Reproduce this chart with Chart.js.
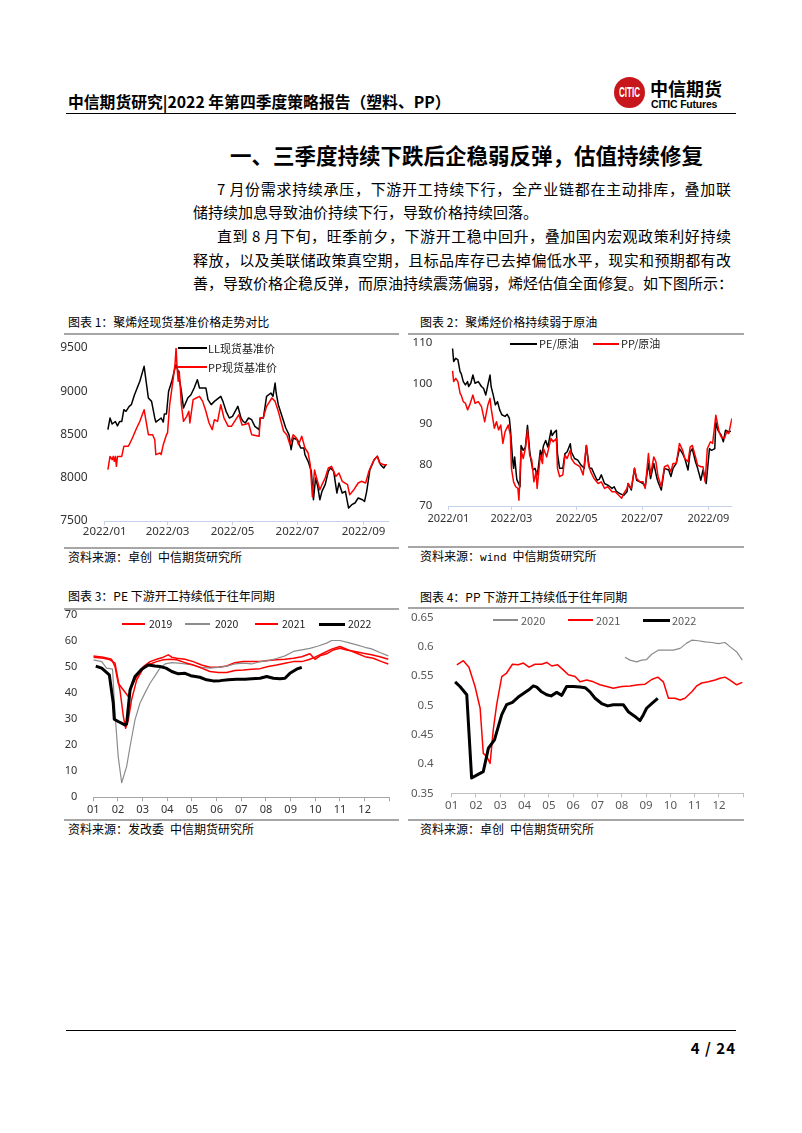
<!DOCTYPE html>
<html><head><meta charset="utf-8">
<script src="https://cdn.jsdelivr.net/npm/chart.js@4.4.0/dist/chart.umd.min.js"></script>
<style>
html,body{margin:0;padding:0;background:#fff;}
body{width:802px;height:1133px;position:relative;overflow:hidden;font-family:'Noto Sans CJK SC','Noto Sans',sans-serif;color:#000;}
.a{position:absolute;white-space:nowrap;line-height:1;}
.ln{position:absolute;}
.j{position:absolute;white-space:nowrap;line-height:1;text-align:justify;text-align-last:justify;}
canvas{position:absolute;}
</style></head><body>

<!-- header -->
<div class="a" style="left:68px;top:94px;font-size:15.8px;font-weight:bold;">中信期货研究|2022 年第四季度策略报告（塑料、PP）</div>
<div class="ln" style="left:614px;top:77px;width:31px;height:31px;border-radius:50%;background:#c8161d;"></div>
<div class="a" style="left:614px;top:88px;width:31px;text-align:center;color:#fff;font:bold 8px 'Liberation Sans',sans-serif;transform:scaleY(1.8);">CITIC</div>
<div class="a" style="left:650px;top:79px;font-size:18px;font-weight:bold;">中信期货</div>
<div class="a" style="left:651px;top:98px;font:bold 10.5px 'Liberation Sans',sans-serif;letter-spacing:-0.2px;">CITIC Futures</div>
<div class="ln" style="left:66px;top:112.5px;width:670px;height:1.5px;background:#000;"></div>

<!-- section title and paragraph -->
<div class="a" style="left:230px;top:144px;font-size:21.5px;font-weight:bold;">一、三季度持续下跌后企稳弱反弹，估值持续修复</div>
<div class="j" style="left:217px;top:180.5px;width:514px;font-size:15px;">7 月份需求持续承压，下游开工持续下行，全产业链都在主动排库，叠加联</div>
<div class="a" style="left:193px;top:203.5px;font-size:15px;">储持续加息导致油价持续下行，导致价格持续回落。</div>
<div class="j" style="left:217px;top:227.5px;width:514px;font-size:15px;">直到 8 月下旬，旺季前夕，下游开工稳中回升，叠加国内宏观政策利好持续</div>
<div class="j" style="left:193px;top:251.5px;width:538px;font-size:15px;">释放，以及美联储政策真空期，且标品库存已去掉偏低水平，现实和预期都有改</div>
<div class="a" style="left:193px;top:274.5px;font-size:15px;">善，导致价格企稳反弹，而原油持续震荡偏弱，烯烃估值全面修复。如下图所示：</div>

<!-- chart titles / rules / sources -->
<div class="a" style="left:68px;top:316px;font-size:12px;">图表 1：聚烯烃现货基准价格走势对比</div>
<div class="ln" style="left:64px;top:332.5px;width:335px;height:2px;background:#a6a6a6;"></div>
<div class="ln" style="left:64px;top:546.5px;width:335px;height:2px;background:#a6a6a6;"></div>
<div class="a" style="left:68px;top:551px;font-size:12px;">资料来源：卓创&ensp;中信期货研究所</div>

<div class="a" style="left:420px;top:316px;font-size:12px;">图表 2：聚烯烃价格持续弱于原油</div>
<div class="ln" style="left:408px;top:332.5px;width:336px;height:2px;background:#a6a6a6;"></div>
<div class="ln" style="left:408px;top:545.5px;width:336px;height:2px;background:#a6a6a6;"></div>
<div class="a" style="left:420px;top:550px;font-size:12px;">资料来源：<span style="font-family:'DejaVu Sans Mono',monospace;font-size:11px;">wind</span>&ensp;中信期货研究所</div>

<div class="a" style="left:68px;top:590px;font-size:12px;">图表 3：PE 下游开工持续低于往年同期</div>
<div class="ln" style="left:64px;top:608px;width:335px;height:2px;background:#a6a6a6;"></div>
<div class="ln" style="left:64px;top:818.5px;width:335px;height:2px;background:#a6a6a6;"></div>
<div class="a" style="left:68px;top:823px;font-size:12px;">资料来源：发改委&ensp;中信期货研究所</div>

<div class="a" style="left:420px;top:591px;font-size:12px;">图表 4：PP 下游开工持续低于往年同期</div>
<div class="ln" style="left:408px;top:607px;width:336px;height:2px;background:#a6a6a6;"></div>
<div class="ln" style="left:408px;top:819px;width:336px;height:2px;background:#a6a6a6;"></div>
<div class="a" style="left:420px;top:823px;font-size:12px;">资料来源：卓创&ensp;中信期货研究所</div>

<!-- footer -->
<div class="ln" style="left:66px;top:1029.5px;width:670px;height:1.5px;background:#000;"></div>
<div class="a" style="left:636px;top:1039.5px;width:100px;text-align:right;font-size:15px;font-weight:bold;letter-spacing:1px;">4 / 24</div>

<canvas id="c1"></canvas>
<canvas id="c2"></canvas>
<canvas id="c3"></canvas>
<canvas id="c4"></canvas>

<!-- legends -->
<div class="ln" style="left:178px;top:347.3px;width:29px;height:1.5px;background:#000;"></div>
<div class="a" style="left:208px;top:342.5px;font-size:11px;color:#222;">LL现货基准价</div>
<div class="ln" style="left:178px;top:366.3px;width:29px;height:1.5px;background:#f00;"></div>
<div class="a" style="left:208px;top:361.5px;font-size:11px;color:#222;">PP现货基准价</div>

<div class="ln" style="left:510px;top:343.3px;width:27px;height:1.5px;background:#000;"></div>
<div class="a" style="left:539px;top:338.3px;font-size:11px;color:#222;">PE/原油</div>
<div class="ln" style="left:593px;top:343.3px;width:26px;height:1.5px;background:#f00;"></div>
<div class="a" style="left:621px;top:338.3px;font-size:11px;color:#222;">PP/原油</div>

<div class="ln" style="left:122px;top:623.3px;width:23px;height:1.5px;background:#f00;"></div>
<div class="a" style="left:149px;top:618.7px;font-size:10.5px;color:#222;">2019</div>
<div class="ln" style="left:185px;top:623.4px;width:25px;height:1.2px;background:#8c8c8c;"></div>
<div class="a" style="left:215px;top:618.7px;font-size:10.5px;color:#222;">2020</div>
<div class="ln" style="left:255px;top:623.3px;width:23px;height:1.5px;background:#f00;"></div>
<div class="a" style="left:282px;top:618.7px;font-size:10.5px;color:#222;">2021</div>
<div class="ln" style="left:319px;top:622.5px;width:26px;height:3px;background:#000;"></div>
<div class="a" style="left:348px;top:618.7px;font-size:10.5px;color:#222;">2022</div>

<div class="ln" style="left:493px;top:619.4px;width:25px;height:1.2px;background:#8c8c8c;"></div>
<div class="a" style="left:521px;top:614.5px;font-size:11px;color:#595959;">2020</div>
<div class="ln" style="left:568px;top:619.3px;width:25px;height:1.5px;background:#f00;"></div>
<div class="a" style="left:596px;top:614.5px;font-size:11px;color:#595959;">2021</div>
<div class="ln" style="left:643px;top:618.5px;width:27px;height:3px;background:#000;"></div>
<div class="a" style="left:672px;top:614.5px;font-size:11px;color:#595959;">2022</div>

<script>
// ===== Chart 1: spot benchmark prices (x = days since 2022-01-01) =====
const c1XTickDays   = [0, 59, 120, 181, 243];
const c1XTickLabels = ['2022/01','2022/03','2022/05','2022/07','2022/09'];
const c1YTicks      = [7500, 8000, 8500, 9000, 9500];
const c1YTickLabels = ['7500','8000','8500','9000','9500'];
const llDay = [3,5,7,10,12,14,16,18,20,23,25,28,33,37,41,44,47,48,53,55,56,58,60,63,66,67,69,72,74,78,81,84,87,89,95,97,100,103,109,111,114,117,120,125,128,130,132,135,138,141,145,146,149,152,156,158,160,161,163,167,170,173,175,177,181,184,187,188,191,194,196,198,200,202,204,207,210,212,215,218,220,223,226,229,232,235,238,242,244,246,249,253,256,259,262,264];
const llPrice = [8556,8690,8621,8650,8600,8650,8650,8787,8768,8826,8845,8960,9115,9288,8922,8883,8691,8644,8691,8644,8737,8737,9000,9115,9269,9307,9230,9000,8806,8922,8960,9038,9134,9038,9038,8903,8845,8883,8941,8883,8768,8691,8710,8826,8691,8652,8633,8691,8671,8594,8556,8691,8691,8941,8980,8941,9095,8980,8845,8691,8575,8498,8325,8460,8440,8344,8344,8267,8190,8074,7746,7997,7901,7746,7843,7920,8074,8113,8074,7824,7939,7824,7843,7650,7689,7708,7766,7746,7727,7843,8094,8209,8248,8151,8113,8151];
const ppDay = [3,5,7,8,9,10,11,12,16,18,22,23,26,30,33,37,41,45,47,48,52,53,55,58,59,61,64,66,67,68,69,70,72,74,77,79,80,83,86,89,92,95,98,101,103,106,109,112,116,119,122,126,129,133,135,138,145,146,149,152,157,160,163,168,171,174,177,180,182,185,188,191,193,195,197,198,202,204,207,210,213,217,220,223,228,230,234,238,241,245,248,253,256,258,262,265];
const ppPrice = [8093,8247,8209,8247,8190,8247,8132,8247,8247,8363,8363,8382,8460,8575,8652,8787,8498,8498,8440,8267,8286,8267,8382,8498,8517,8845,9115,9307,9500,9269,9115,9230,8845,8652,8710,8768,8633,8903,8922,8941,8883,8768,8633,8556,8671,8652,8845,8691,8594,8594,8652,8729,8610,8620,8633,8498,8479,8691,8698,8826,8922,8883,8768,8537,8498,8382,8498,8460,8382,8479,8344,8286,8151,7780,8090,8040,7862,7920,7997,8113,8132,8016,8055,7959,7920,7804,7862,7939,7959,7939,8074,8209,8248,8170,8151,8151];

// ===== Chart 2: polyolefin / crude ratio =====
const c2YTicks      = [70, 80, 90, 100, 110];
const c2YTickLabels = ['70','80','90','100','110'];
const peOilDay = [4,5,7,9,11,12,14,16,18,19,21,23,25,28,31,33,35,37,39,40,42,44,46,48,50,53,55,57,58,60,61,62,64,65,67,68,70,72,74,76,77,79,81,83,84,86,87,89,91,93,96,97,99,101,102,104,107,109,111,114,115,118,121,124,127,129,131,132,134,136,139,141,143,146,149,153,155,157,160,164,167,168,171,174,176,179,182,184,187,189,192,195,196,199,202,206,208,210,213,216,219,221,224,226,228,231,233,236,238,241,244,246,249,250,252,255,257,259,262,264];
const peOilRatio = [108.5,105.3,106.1,105.7,102.8,102.4,100.4,99.6,100.4,99.2,100,102,100,100.4,99.2,98.7,97.1,99.6,102,99.2,97.1,94.7,95.5,93.5,92.3,91.9,92.4,91.5,89.0,81.6,79.2,82.0,76.5,75.9,74.7,84.8,83.6,84.4,89.7,83.6,81.6,78.8,79.2,77.6,79.2,83.6,82,84.8,86,84.4,88.5,87.2,88,88.5,82.8,79.2,79.2,82.8,83.2,85.2,83.2,81.6,81.2,80,79.2,84.8,80.8,79.2,79.2,78,76.3,76.5,77.6,75.5,75.1,74.3,74.7,73.6,73.1,72.6,73.5,75.5,73.9,79.2,76.3,75.9,75.5,74.7,80.4,76.7,80.4,76.7,75.9,73.9,79.2,78.8,77.2,79.2,80.4,84,82.8,81.6,78.8,83.2,84,80.8,79.2,76.3,78.8,75.5,84,83.6,84,90.5,88.5,87.3,85.7,88.5,88.1,88.3];
const ppOilDay = [4,5,7,9,11,12,14,16,18,20,23,25,28,31,34,37,39,40,43,45,47,49,51,53,56,58,59,61,63,65,66,68,70,72,74,76,78,80,82,83,86,88,89,92,94,96,98,101,102,104,107,109,111,114,115,118,123,126,129,131,133,136,140,143,146,149,153,156,159,162,164,167,168,171,174,176,179,182,184,187,189,192,194,196,199,202,205,208,210,213,216,219,221,224,226,228,231,233,236,238,240,242,245,247,250,253,255,258,260,262,265];
const ppOilRatio = [103,100.4,101.2,100.4,97.5,97.1,95.5,95.1,93.5,94.7,97.1,95.1,95.5,94.3,90.6,94.7,96.3,93.9,89,90.6,88.6,89.8,85.3,88.1,89.8,87.3,79.2,75.9,74.7,74.3,71.4,83.6,81.6,84,88.5,82.4,81.2,75.9,78.4,74.3,82.4,80.4,84,82,84.4,86.5,85.7,86.5,79.2,77.2,77.6,82.4,81.6,83.6,81.6,80.4,79.6,77.6,84.8,80,78.4,76.8,75.5,75.9,74.3,74.7,73.5,73.5,72.7,71.9,73.1,74.3,75.5,74.3,79.2,76.7,75.9,75.9,74.3,82.8,77.6,82,80.8,77.2,74.7,79.6,80,78.4,80.4,80.4,85.3,83.6,81.6,80.8,84.4,84.8,82,80,79.6,79.6,75.9,84,85.7,85.3,92.2,88.1,86.9,86.5,88.1,87.7,91.4];

// ===== Chart 3 & 4: month axis (x = month position, 1 = start of Jan) =====
const monthTicks  = [1,2,3,4,5,6,7,8,9,10,11,12,13];
const monthLabels = ['01','02','03','04','05','06','07','08','09','10','11','12',''];
const c3YTicks      = [0,10,20,30,40,50,60,70];
const c3YTickLabels = ['0','10','20','30','40','50','60','70'];
const pe2019Month = [1.0,1.41,1.74,1.88,2.01,2.22,2.42,2.55,2.76,3.03,3.3,3.57,3.84,4.04,4.18,4.38,4.72,5.05,5.39,5.73,6.07,6.41,6.74,7.08,7.42,7.76,8.09,8.43,8.77,9.11,9.45,9.78,9.99,10.19,10.46,10.73,11.0,11.27,11.61,11.95,12.28,12.62,12.96];
const pe2019Rate  = [54.3,53.8,53,50.2,43.8,41.2,38.7,42.5,46.4,50.2,52.1,53,53.8,54.7,53.8,53.4,53,52.1,50.8,49.9,49.9,50.4,51.7,52.1,52.1,52.1,52.5,52.8,53,53.4,54,55.1,53,54.3,55.1,56.6,57.2,56.6,56,55.3,54.7,54,53];
const pe2020Month = [1.0,1.34,1.54,1.78,1.88,2.01,2.15,2.35,2.49,2.69,2.89,3.09,3.3,3.5,3.7,3.91,4.18,4.45,4.72,5.05,5.39,5.73,6.07,6.41,6.74,7.08,7.42,7.76,8.09,8.43,8.77,9.11,9.45,9.78,10.12,10.46,10.66,11.0,11.34,11.68,12.01,12.28,12.62,12.96];
const pe2020Rate  = [52.8,52.1,49.6,49.2,32.3,15.6,5.6,11.8,19.5,29.7,36.1,40,43.8,46.6,49.6,51.2,51.7,51.5,51.2,50.8,49.9,49.6,49.9,50.4,51.2,51.5,51.2,52.1,52.5,53.3,54.3,56,56.6,57.2,58.1,59.2,60.2,60.2,59.4,58.5,57.6,57,55.6,54.3];
const pe2021Month = [1.0,1.41,1.68,1.88,2.08,2.22,2.31,2.42,2.55,2.76,3.03,3.3,3.57,3.84,4.11,4.38,4.72,5.05,5.39,5.73,6.07,6.41,6.74,7.08,7.42,7.76,8.09,8.43,8.77,9.11,9.45,9.72,9.99,10.32,10.66,11.0,11.34,11.68,12.01,12.35,12.69,12.96];
const pe2021Rate  = [53.8,53.4,52.8,51.5,41.2,31,26.5,29.7,37.4,45.1,49.6,51.2,52.1,52.8,53,52.8,51.7,50.8,49.6,48.3,47.9,47.9,48.7,48.9,49.2,49.4,50.2,50.8,51.5,52.1,52.1,52.8,53.8,55.3,56.9,57.9,56.6,55.3,54,53.4,52.1,51.2];
const pe2022Month = [1.1,1.34,1.65,1.81,1.85,2.01,2.28,2.35,2.49,2.69,2.96,3.23,3.5,3.7,3.95,4.18,4.45,4.72,4.95,5.32,5.59,5.86,6.14,6.47,6.81,7.15,7.42,7.76,8.03,8.3,8.57,8.77,8.97,9.24,9.45];
const pe2022Rate  = [50.4,49.6,47,36.1,30,29.1,27.8,28.2,41.2,46.4,49.2,50.8,50.4,50.2,49.6,48.3,47.4,47.6,46.7,46.1,45.1,44.7,44.8,45.1,45.3,45.3,45.5,45.7,46.4,45.7,45.5,45.7,47.6,49.2,49.9];

const c4YTicks      = [0.35,0.4,0.45,0.5,0.55,0.6,0.65];
const c4YTickLabels = ['0.35','0.4','0.45','0.5','0.55','0.6','0.65'];
const pp2020Month = [8.13,8.34,8.61,8.82,9.02,9.23,9.5,9.85,10.12,10.4,10.67,10.88,11.15,11.43,11.7,11.97,12.25,12.45,12.73,12.96];
const pp2020Rate  = [0.582,0.577,0.574,0.577,0.578,0.587,0.594,0.594,0.594,0.597,0.606,0.611,0.61,0.608,0.607,0.605,0.607,0.6,0.591,0.577];
const pp2021Month = [1.21,1.48,1.71,1.96,2.17,2.3,2.44,2.58,2.71,2.85,3.06,3.26,3.5,3.74,3.95,4.18,4.43,4.7,4.91,5.12,5.36,5.6,5.8,6.08,6.28,6.56,6.83,7.1,7.38,7.65,8.0,8.34,8.68,8.96,9.23,9.48,9.71,9.92,10.19,10.4,10.6,10.88,11.08,11.29,11.56,11.84,12.04,12.25,12.45,12.73,12.96];
const pp2021Rate  = [0.569,0.576,0.565,0.532,0.495,0.418,0.413,0.401,0.458,0.501,0.549,0.555,0.57,0.569,0.572,0.565,0.57,0.57,0.573,0.567,0.569,0.56,0.552,0.549,0.54,0.543,0.54,0.535,0.532,0.529,0.532,0.533,0.535,0.536,0.544,0.548,0.54,0.512,0.512,0.509,0.512,0.523,0.533,0.538,0.54,0.543,0.546,0.548,0.543,0.535,0.539];
const pp2022Month = [1.14,1.34,1.62,1.82,2.03,2.3,2.51,2.76,2.92,3.06,3.26,3.5,3.74,3.95,4.16,4.36,4.5,4.7,4.91,5.09,5.32,5.53,5.73,6.01,6.28,6.49,6.69,6.9,7.17,7.42,7.65,8.06,8.27,8.54,8.75,8.89,9.02,9.23,9.48];
const pp2022Rate  = [0.540,0.532,0.518,0.376,0.381,0.387,0.427,0.441,0.464,0.484,0.501,0.505,0.514,0.52,0.526,0.533,0.531,0.523,0.518,0.516,0.522,0.517,0.532,0.532,0.531,0.53,0.523,0.512,0.503,0.499,0.501,0.501,0.489,0.481,0.474,0.484,0.495,0.503,0.512];

Chart.defaults.font.family = "'Noto Sans','Noto Sans CJK SC',sans-serif";
Chart.defaults.color = '#404040';

function pairs(xs, ys) {
  const n = Math.min(xs.length, ys.length), out = [];
  for (let i = 0; i < n; i++) out.push({x: xs[i], y: ys[i]});
  return out;
}
function ds(xs, ys, color, w) {
  return {data: pairs(xs, ys), borderColor: color, borderWidth: w, fill: false, pointRadius: 0};
}
function build(id, box, area, datasets, xs, ys, o) {
  const cv = document.getElementById(id);
  cv.width = box.w; cv.height = box.h;
  cv.style.left = box.x + 'px'; cv.style.top = box.y + 'px';
  cv.style.width = box.w + 'px'; cv.style.height = box.h + 'px';
  const XH = 22;
  new Chart(cv, {
    type: 'line',
    data: {datasets},
    options: {
      responsive: false, animation: false, devicePixelRatio: 1,
      layout: {padding: {left: 0, right: box.x + box.w - area.r, top: area.t - box.y, bottom: box.y + box.h - area.b - XH}},
      plugins: {legend: {display: false}, tooltip: {enabled: false}},
      elements: {point: {radius: 0, hoverRadius: 0}, line: {tension: 0, borderJoinStyle: 'round'}},
      scales: {
        x: {type: 'linear', min: xs.min, max: xs.max,
          afterBuildTicks: s => { s.ticks = xs.ticks.map(v => ({value: v})); },
          afterFit: s => { s.height = XH; s.paddingLeft = 0; s.paddingRight = 0; },
          ticks: {autoSkip: false, maxRotation: 0, minRotation: 0, padding: o.xpad, color: o.color, font: {size: o.xfs},
                  callback: (v, i) => xs.labels[i]},
          grid: {display: true, drawOnChartArea: false, drawTicks: true, tickLength: 4, color: o.axis, lineWidth: 1},
          border: {display: true, color: o.axis, width: 1}
        },
        y: {type: 'linear', min: ys.min, max: ys.max,
          afterBuildTicks: s => { s.ticks = ys.ticks.map(v => ({value: v})); },
          afterFit: s => { s.width = area.l - box.x; s.paddingTop = 0; s.paddingBottom = 0; },
          ticks: {padding: o.ypad, color: o.color, font: {size: o.yfs}, callback: (v, i) => ys.labels[i]},
          grid: {display: false}, border: {display: false}
        }
      }
    }
  });
}

build('c1', {x: 60, y: 335, w: 340, h: 210}, {l: 104.7, r: 388, t: 348, b: 521},
  [ds(ppDay, ppPrice, '#ff0000', 1.5), ds(llDay, llPrice, '#000000', 1.5)],
  {min: 0, max: 266, ticks: c1XTickDays, labels: c1XTickLabels},
  {min: 7500, max: 9500, ticks: c1YTicks, labels: c1YTickLabels},
  {xpad: 0, ypad: 9, color: '#333', xfs: 11.5, yfs: 12, axis: '#c5d0ea'});

build('c2', {x: 405, y: 330, w: 345, h: 210}, {l: 448.3, r: 731.9, t: 342.3, b: 506},
  [ds(ppOilDay, ppOilRatio, '#ff0000', 1.5), ds(peOilDay, peOilRatio, '#000000', 1.5)],
  {min: 0, max: 265, ticks: c1XTickDays, labels: c1XTickLabels},
  {min: 70, max: 110, ticks: c2YTicks, labels: c2YTickLabels},
  {xpad: 2, ypad: 8, color: '#333', xfs: 11, yfs: 11.5, axis: '#c5d0ea'});

build('c3', {x: 60, y: 600, w: 340, h: 220}, {l: 93.3, r: 389.3, t: 615, b: 797.3},
  [ds(pe2022Month, pe2022Rate, '#000000', 3), ds(pe2021Month, pe2021Rate, '#ff0000', 1.5),
   ds(pe2020Month, pe2020Rate, '#8c8c8c', 1.2), ds(pe2019Month, pe2019Rate, '#ff0000', 1.5)],
  {min: 1, max: 13, ticks: monthTicks, labels: monthLabels},
  {min: 0, max: 70, ticks: c3YTicks, labels: c3YTickLabels},
  {xpad: 1.5, ypad: 8, color: '#333', xfs: 11, yfs: 11, axis: '#a6a6a6'});

build('c4', {x: 405, y: 600, w: 345, h: 220}, {l: 451.7, r: 743.3, t: 617.3, b: 793.3},
  [ds(pp2022Month, pp2022Rate, '#000000', 3), ds(pp2021Month, pp2021Rate, '#ff0000', 1.5),
   ds(pp2020Month, pp2020Rate, '#8c8c8c', 1.2)],
  {min: 1, max: 13, ticks: monthTicks, labels: monthLabels},
  {min: 0.35, max: 0.65, ticks: c4YTicks, labels: c4YTickLabels},
  {xpad: 2, ypad: 10, color: '#595959', xfs: 11.5, yfs: 11.5, axis: '#bfbfbf'});
</script>
</body></html>
